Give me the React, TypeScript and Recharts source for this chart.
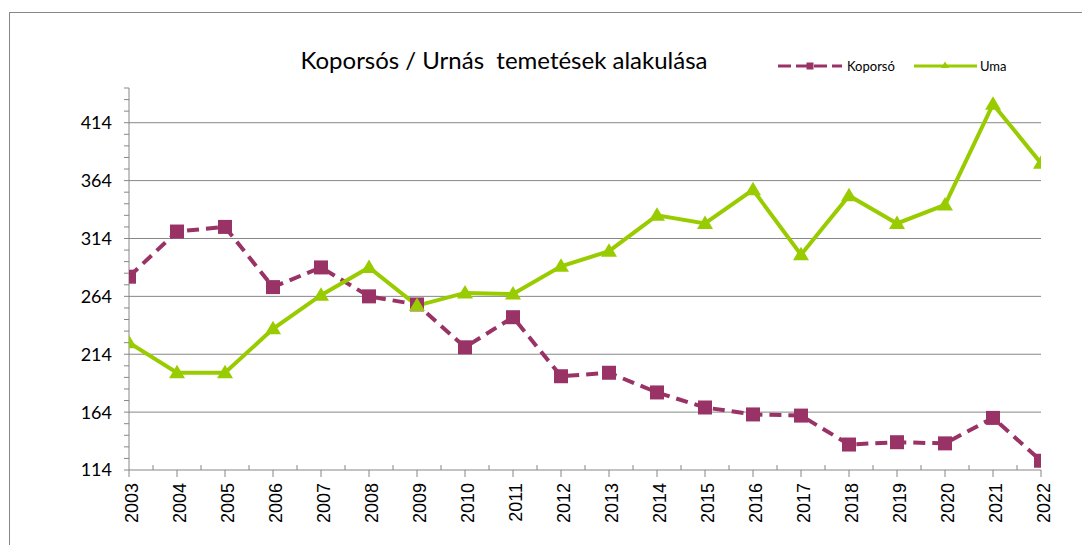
import React from "react";
import { LineChart, Line, XAxis, YAxis, CartesianGrid, Legend } from "recharts";

const categories = ["2003","2004","2005","2006","2007","2008","2009","2010","2011","2012","2013","2014","2015","2016","2017","2018","2019","2020","2021","2022"];
const koporso = [281, 320, 324, 272, 289, 264, 257, 220, 246, 195, 198, 181, 168, 162, 161, 136, 138, 137, 159, 122];
const urna = [224, 198, 198, 236, 265, 289, 256, 267, 266, 290, 303, 334, 327, 356, 300, 351, 327, 343, 430, 379];
const majorYTicks = [114, 164, 214, 264, 314, 364, 414];
const seriesNames = ["Koporsó", "Uma"];
const title = "Koporsós / Urnás  temetések alakulása";

const yMin = 114;
const yMax = 444;
const yTicks: number[] = [];
for (let v = yMin; v <= yMax; v += 10) yTicks.push(v);

const years = categories.map((c) => Number(c));
const xTicks: number[] = [];
years.forEach((y, i) => {
  xTicks.push(y);
  if (i < years.length - 1) xTicks.push(y + 0.5);
});

const data = categories.map((c, i) => ({ year: Number(c), koporso: koporso[i], urna: urna[i] }));

const PLUM = "#993366";
const GREEN = "#99CC00";
const GRID = "#878787";

const XTick = (props: any) => {
  const { x, y, payload } = props;
  const v = payload.value;
  if (Math.abs(v - Math.round(v)) > 0.01) {
    return <line x1={x} y1={y} x2={x} y2={y - 5} stroke={GRID} strokeWidth={1} />;
  }
  const tx = x + 3;
  const ty = y + 13;
  return (
    <g>
      <line x1={x} y1={y} x2={x} y2={y + 7} stroke={GRID} strokeWidth={1} />
      <text
        x={tx}
        y={ty}
        transform={`rotate(-90, ${tx}, ${ty})`}
        textAnchor="end"
        dy="0.36em"
        fontSize={18}
        fontFamily="'Liberation Sans', Arial, sans-serif"
        fill="#000"
      >
        {String(Math.round(v))}
      </text>
    </g>
  );
};

const YTick = (props: any) => {
  const { x, y, payload } = props;
  const v = payload.value;
  if (!majorYTicks.includes(v)) return <g />;
  return (
    <text
      x={x}
      y={y}
      dy="0.36em"
      textAnchor="end"
      fontSize={18}
      fontFamily="Lato, 'Open Sans', sans-serif"
      fill="#000"
    >
      {String(v)}
    </text>
  );
};

const SquareDot = (props: any) => {
  const { cx, cy, index } = props;
  if (cx == null || cy == null) return <g key={`s-${index}`} />;
  return <rect key={`s-${index}`} x={cx - 7} y={cy - 7} width={14} height={14} fill={PLUM} />;
};

const TriDot = (props: any) => {
  const { cx, cy, index } = props;
  if (cx == null || cy == null) return <g key={`t-${index}`} />;
  return (
    <polygon
      key={`t-${index}`}
      points={`${cx},${cy - 8} ${cx - 8},${cy + 5.5} ${cx + 8},${cy + 5.5}`}
      fill={GREEN}
    />
  );
};

const renderLegend = () => (
  <svg width={260} height={30} style={{ display: "block", overflow: "visible" }}>
    <line x1={8} y1={14} x2={72} y2={14} stroke={PLUM} strokeWidth={3} strokeDasharray="13 5" />
    <rect x={36.5} y={10.5} width={7} height={7} fill={PLUM} />
    <text x={77} y={18.5} fontSize={13} fontFamily="Lato, 'Open Sans', sans-serif" fill="#000">
      {seriesNames[0]}
    </text>
    <line x1={144} y1={14} x2={207} y2={14} stroke={GREEN} strokeWidth={3} />
    <polygon points={`175,9.5 171,16 179,16`} fill={GREEN} />
    <text x={210} y={18.5} fontSize={13} fontFamily="Lato, 'Open Sans', sans-serif" fill="#000">
      {seriesNames[1]}
    </text>
  </svg>
);

export default function App() {
  const W = 1082;
  const H = 537;
  return (
    <div style={{ position: "relative", width: W, height: H, background: "#fff" }}>
      <style>{`html,body{overflow:hidden;background:#fff}`}</style>
      <div
        style={{
          position: "absolute",
          left: 1,
          top: 4,
          width: W - 1,
          height: H - 4,
          borderTop: `1px solid ${GRID}`,
          borderLeft: `1px solid ${GRID}`,
          boxSizing: "border-box",
        }}
      />
      <div style={{ position: "absolute", left: 0, top: 0 }}>
        <LineChart width={W} height={H} data={data} margin={{ top: 80, right: 49, bottom: 15, left: 0 }}>
          <CartesianGrid vertical={false} horizontalValues={majorYTicks.slice(1)} stroke={GRID} strokeWidth={1} />
          <XAxis
            dataKey="year"
            type="number"
            domain={[years[0], years[years.length - 1]]}
            ticks={xTicks}
            interval={0}
            tickLine={false}
            tickSize={0}
            tickMargin={0}
            height={60}
            axisLine={{ stroke: GRID, strokeWidth: 1 }}
            tick={<XTick />}
            allowDataOverflow
          />
          <YAxis
            type="number"
            domain={[yMin, yMax]}
            ticks={yTicks}
            interval={0}
            width={121}
            tickSize={5}
            tickMargin={12}
            tickLine={{ stroke: GRID, strokeWidth: 1 }}
            axisLine={{ stroke: GRID, strokeWidth: 1 }}
            tick={<YTick />}
            allowDataOverflow
          />
          <Legend
            content={renderLegend}
            wrapperStyle={{ position: "absolute", left: 762, top: 44, width: 260, height: 0, overflow: "visible" }}
          />
          <Line
            type="linear"
            dataKey="koporso"
            name={seriesNames[0]}
            stroke={PLUM}
            strokeWidth={4}
            strokeDasharray="12 7"
            dot={SquareDot}
            activeDot={false}
            isAnimationActive={false}
          />
          <Line
            type="linear"
            dataKey="urna"
            name={seriesNames[1]}
            stroke={GREEN}
            strokeWidth={4}
            dot={TriDot}
            activeDot={false}
            isAnimationActive={false}
          />
        </LineChart>
      </div>
      <svg
        width={W}
        height={H}
        style={{ position: "absolute", left: 0, top: 0, pointerEvents: "none" }}
      >
        <text
          x={496}
          y={61.3}
          textAnchor="middle"
          fontSize={24}
          fontFamily="Lato, 'Open Sans', sans-serif"
          fill="#000"
          style={{ whiteSpace: "pre" }}
        >
          {title}
        </text>
      </svg>
    </div>
  );
}
